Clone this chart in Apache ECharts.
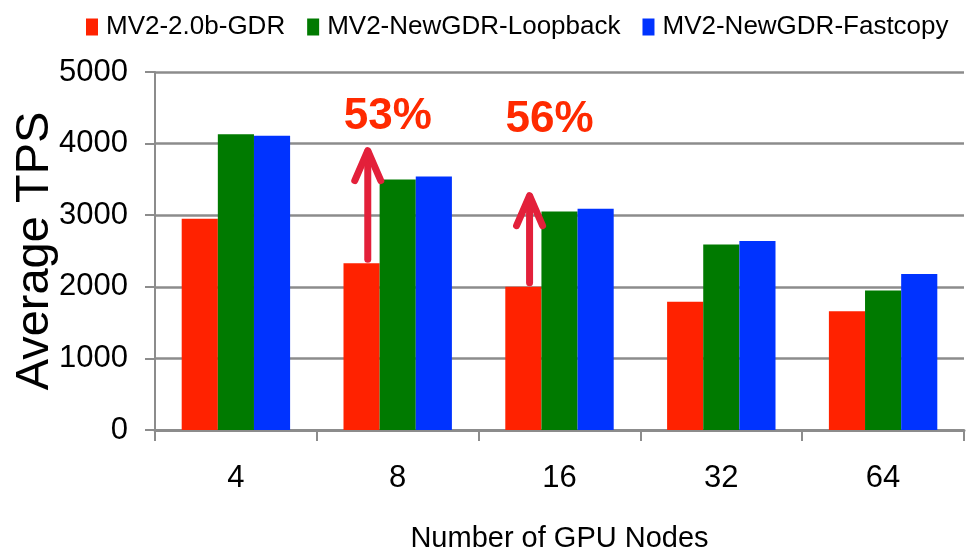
<!DOCTYPE html>
<html>
<head>
<meta charset="utf-8">
<script src="https://cdn.jsdelivr.net/npm/echarts@6/dist/echarts.min.js"></script>
<style>
  html, body { margin: 0; padding: 0; background: #fff; }
  #chart { width: 975px; height: 551px; }
</style>
</head>
<body>
<div id="chart"></div>
<script>
// GPU node counts on the x axis
const nodeCounts = ['4', '8', '16', '32', '64'];

// Average TPS for each MPI build
const seriesNames = ['MV2-2.0b-GDR', 'MV2-NewGDR-Loopback', 'MV2-NewGDR-Fastcopy'];
const gdrTps = [2950, 2330, 2000, 1790, 1660];
const loopbackTps = [4130, 3500, 3050, 2590, 1950];
const fastcopyTps = [4110, 3540, 3090, 2640, 2180];

// Y axis scale
const yMin = 0;
const yMax = 5000;
const yStep = 1000;

// Improvement callouts: node count, arrow start, arrow tip, label height, label text
const gainNodes = ['8', '16'];
const gainFrom = [2330, 2000];
const gainTo = [3930, 3300];
const gainLabelAt = [4370, 4330];
const gainText = ['53%', '56%'];

const colors = ['#FF2200', '#007A00', '#0033FF'];
const arrowColor = '#E3203A';
const sans = '"Liberation Sans", Arial, sans-serif';

const gainData = gainNodes.map((n, i) => [nodeCounts.indexOf(n), gainFrom[i], gainTo[i], gainLabelAt[i], gainText[i]]);

const chart = echarts.init(document.getElementById('chart'), null, { renderer: 'canvas' });

function barSeries(name, values, color) {
  return {
    name: name,
    type: 'bar',
    data: values,
    barGap: '0%',
    barCategoryGap: '33%',
    itemStyle: { color: color },
    z: 3
  };
}

chart.setOption({
  animation: false,
  backgroundColor: '#ffffff',
  color: colors,
  legend: {
    data: seriesNames,
    top: 9,
    left: 81,
    icon: 'rect',
    itemWidth: 12,
    itemHeight: 17,
    itemGap: 22,
    textStyle: {
      fontFamily: sans,
      fontSize: 26,
      color: '#000',
      padding: [0, 0, 0, 3]
    }
  },
  grid: {
    left: 155,
    right: 11,
    top: 72,
    bottom: 121,
    containLabel: false,
    outerBoundsMode: 'none'
  },
  xAxis: {
    type: 'category',
    data: nodeCounts,
    name: 'Number of GPU Nodes',
    nameLocation: 'middle',
    nameGap: 94,
    nameMoveOverlap: false,
    nameTextStyle: { fontFamily: sans, fontSize: 29, color: '#000' },
    axisLine: { lineStyle: { color: '#8c8c8c', width: 3 } },
    axisTick: { show: true, alignWithLabel: false, length: 11, lineStyle: { color: '#8c8c8c', width: 2 } },
    axisLabel: { fontFamily: sans, fontSize: 31, color: '#000', margin: 33 }
  },
  yAxis: {
    type: 'value',
    min: yMin,
    max: yMax,
    interval: yStep,
    name: 'Average TPS',
    nameLocation: 'middle',
    nameGap: 96,
    nameMoveOverlap: false,
    nameTextStyle: { fontFamily: sans, fontSize: 47, color: '#000' },
    axisLine: { show: true, lineStyle: { color: '#8c8c8c', width: 2 } },
    axisTick: { show: true, inside: false, length: 10, lineStyle: { color: '#8c8c8c', width: 2 } },
    axisLabel: {
      fontFamily: sans,
      fontSize: 31,
      color: '#000',
      margin: 27,
      formatter: function (v) { return String(v); }
    },
    splitLine: { show: true, lineStyle: { color: '#8c8c8c', width: 2.5 } }
  },
  series: [
    barSeries(seriesNames[0], gdrTps, colors[0]),
    barSeries(seriesNames[1], loopbackTps, colors[1]),
    barSeries(seriesNames[2], fastcopyTps, colors[2]),
    {
      name: 'gain',
      type: 'custom',
      data: gainData,
      z: 10,
      silent: true,
      renderItem: function (params, api) {
        const band = api.size([1, 0])[0];
        const base = api.coord([api.value(0), api.value(1)]);
        const tip = api.coord([api.value(0), api.value(2)]);
        const lab = api.coord([api.value(0), api.value(3)]);
        const x = base[0] - band * 0.185;
        const text = gainData[params.dataIndex][4];
        return {
          type: 'group',
          children: [
            {
              type: 'line',
              shape: { x1: x, y1: base[1] - 4, x2: x, y2: tip[1] + 3 },
              style: { stroke: arrowColor, lineWidth: 7, lineCap: 'round' }
            },
            {
              type: 'polyline',
              shape: { points: [[x - 13, tip[1] + 32], [x, tip[1] + 2], [x + 13, tip[1] + 32]] },
              style: { stroke: arrowColor, lineWidth: 7, fill: null, lineCap: 'round', lineJoin: 'round' }
            },
            {
              type: 'text',
              x: x + 20,
              y: lab[1],
              style: {
                text: text,
                fill: '#FF2A00',
                font: 'bold 44px ' + sans,
                align: 'center',
                verticalAlign: 'middle'
              }
            }
          ]
        };
      }
    }
  ]
});
</script>
</body>
</html>
